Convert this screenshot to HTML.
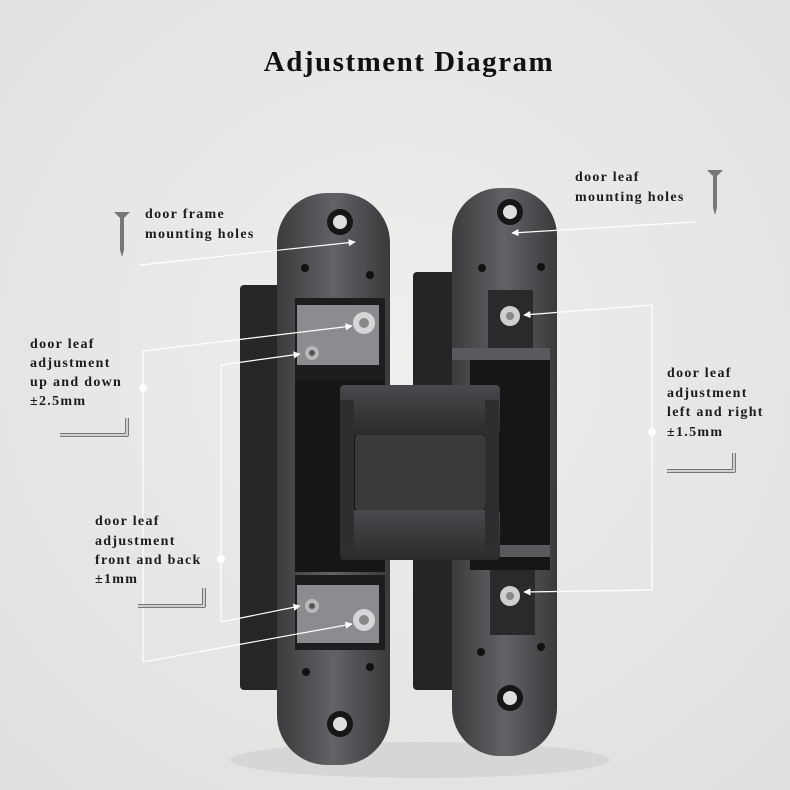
<!DOCTYPE html>
<html><head><meta charset="utf-8"><style>
html,body{margin:0;padding:0;}
body{width:790px;height:790px;overflow:hidden;background:#e9e7e6;}
svg{display:block}
.t{font-family:"Liberation Serif",serif;font-weight:bold;font-size:14px;fill:#1c1c1c;letter-spacing:1.3px}
</style></head><body>
<svg width="790" height="790" viewBox="0 0 790 790" xmlns="http://www.w3.org/2000/svg">
<defs>
<radialGradient id="bg" cx="50%" cy="45%" r="70%"><stop offset="0" stop-color="#f0efee"/><stop offset="1" stop-color="#e2e0df"/></radialGradient>
<linearGradient id="pl" x1="0" x2="1"><stop offset="0" stop-color="#3b3b3d"/><stop offset="0.5" stop-color="#626267"/><stop offset="1" stop-color="#3a3a3c"/></linearGradient>
<linearGradient id="kn" x1="0" y1="0" x2="0" y2="1"><stop offset="0" stop-color="#4a4a4e"/><stop offset="1" stop-color="#2a2a2c"/></linearGradient>
<marker id="ar" viewBox="0 0 10 10" refX="9" refY="5" markerWidth="6" markerHeight="6" orient="auto"><path d="M0,0 L10,5 L0,10 z" fill="#fff"/></marker>
</defs>
<rect width="790" height="790" fill="url(#bg)"/>
<text x="409" y="71" text-anchor="middle" font-family="Liberation Serif, serif" font-weight="bold" font-size="29" fill="#111" letter-spacing="1.5">Adjustment Diagram</text>

<ellipse cx="420" cy="760" rx="190" ry="18" fill="#cfcdcc" opacity="0.6"/>
<rect x="240" y="285" width="62" height="405" rx="4" fill="#262628"/>
<rect x="413" y="272" width="60" height="418" rx="4" fill="#242426"/>
<!-- left plate -->
<rect x="277" y="193" width="113" height="572" rx="50" fill="url(#pl)"/>
<rect x="295" y="380" width="90" height="192" fill="#161617"/>
<rect x="295" y="298" width="90" height="82" fill="#1d1d1f"/>
<rect x="297" y="305" width="82" height="60" fill="#8c8c90"/>
<rect x="295" y="575" width="90" height="75" fill="#1d1d1f"/>
<rect x="297" y="585" width="82" height="58" fill="#8c8c90"/>
<circle cx="364" cy="323" r="11" fill="#d6d6d8"/><circle cx="364" cy="323" r="5" fill="#888"/>
<circle cx="312" cy="353" r="7" fill="#b8b8ba"/><circle cx="312" cy="353" r="3" fill="#555"/>
<circle cx="312" cy="606" r="7" fill="#b8b8ba"/><circle cx="312" cy="606" r="3" fill="#555"/>
<circle cx="364" cy="620" r="11" fill="#d6d6d8"/><circle cx="364" cy="620" r="5" fill="#888"/>
<circle cx="340" cy="222" r="13" fill="#161616"/><circle cx="340" cy="222" r="7" fill="#ddd"/>
<circle cx="340" cy="724" r="13" fill="#161616"/><circle cx="340" cy="724" r="7" fill="#ddd"/>
<circle cx="305" cy="268" r="4" fill="#111"/><circle cx="370" cy="275" r="4" fill="#111"/>
<circle cx="306" cy="672" r="4" fill="#111"/><circle cx="370" cy="667" r="4" fill="#111"/>
<!-- right plate -->
<rect x="452" y="188" width="105" height="568" rx="48" fill="url(#pl)"/>
<rect x="470" y="355" width="80" height="215" fill="#161617"/>
<rect x="488" y="290" width="45" height="60" fill="#2a2a2c"/>
<rect x="490" y="570" width="45" height="65" fill="#2a2a2c"/>
<circle cx="510" cy="316" r="10" fill="#cfcfd1"/><circle cx="510" cy="316" r="4" fill="#888"/>
<circle cx="510" cy="596" r="10" fill="#cfcfd1"/><circle cx="510" cy="596" r="4" fill="#888"/>
<circle cx="510" cy="212" r="13" fill="#161616"/><circle cx="510" cy="212" r="7" fill="#ddd"/>
<circle cx="510" cy="698" r="13" fill="#161616"/><circle cx="510" cy="698" r="7" fill="#ddd"/>
<circle cx="482" cy="268" r="4" fill="#111"/><circle cx="541" cy="267" r="4" fill="#111"/>
<circle cx="481" cy="652" r="4" fill="#111"/><circle cx="541" cy="647" r="4" fill="#111"/>
<rect x="452" y="348" width="98" height="12" fill="#5a5a5e"/>
<rect x="452" y="545" width="98" height="12" fill="#5a5a5e"/>
<!-- knuckle -->
<rect x="340" y="385" width="160" height="50" rx="4" fill="url(#kn)"/>
<rect x="355" y="435" width="130" height="75" rx="3" fill="#3a3a3d"/>
<rect x="340" y="510" width="160" height="50" rx="4" fill="url(#kn)"/>
<rect x="340" y="400" width="14" height="150" fill="#2e2e30"/>
<rect x="485" y="400" width="14" height="150" fill="#2e2e30"/>

<g stroke="#fff" stroke-width="1.2" fill="none">
<path d="M140,265 L355,242" marker-end="url(#ar)"/>
<path d="M695,222 L512,233" marker-end="url(#ar)"/>
<path d="M143,662 L143,351 L352,326" marker-end="url(#ar)"/>
<path d="M221,622 L221,365 L300,354" marker-end="url(#ar)"/>
<path d="M221,622 L300,606" marker-end="url(#ar)"/>
<path d="M143,662 L352,624" marker-end="url(#ar)"/>
<path d="M652,590 L652,305 L524,315" marker-end="url(#ar)"/>
<path d="M652,590 L524,592" marker-end="url(#ar)"/>
</g>
<g fill="#fff"><circle cx="143" cy="388" r="4"/><circle cx="221" cy="559" r="4"/><circle cx="652" cy="432" r="4"/></g>

<text class="t" x="145" y="218">door frame</text>
<text class="t" x="145" y="238">mounting holes</text>
<text class="t" x="575" y="181">door leaf</text>
<text class="t" x="575" y="201">mounting holes</text>
<text class="t" x="30" y="348">door leaf</text>
<text class="t" x="30" y="367">adjustment</text>
<text class="t" x="30" y="386">up and down</text>
<text class="t" x="30" y="405">±2.5mm</text>
<text class="t" x="95" y="525">door leaf</text>
<text class="t" x="95" y="545">adjustment</text>
<text class="t" x="95" y="564">front and back</text>
<text class="t" x="95" y="583">±1mm</text>
<text class="t" x="667" y="377">door leaf</text>
<text class="t" x="667" y="397">adjustment</text>
<text class="t" x="667" y="416">left and right</text>
<text class="t" x="667" y="436">±1.5mm</text>

<g fill="none" stroke="#777" stroke-width="4" stroke-linejoin="round">
<path d="M60,435 L127,435 L127,418"/><path d="M138,606 L204,606 L204,588"/><path d="M667,471 L734,471 L734,453"/>
</g>
<g fill="none" stroke="#eee" stroke-width="1.5">
<path d="M60,435 L127,435 L127,418"/><path d="M138,606 L204,606 L204,588"/><path d="M667,471 L734,471 L734,453"/>
</g>
<g fill="#777">
<path d="M114,212 L130,212 L124,218 L124,250 L122,257 L120,250 L120,218 z"/>
<path d="M707,170 L723,170 L717,176 L717,208 L715,215 L713,208 L713,176 z"/>
</g>
</svg>
</body></html>
